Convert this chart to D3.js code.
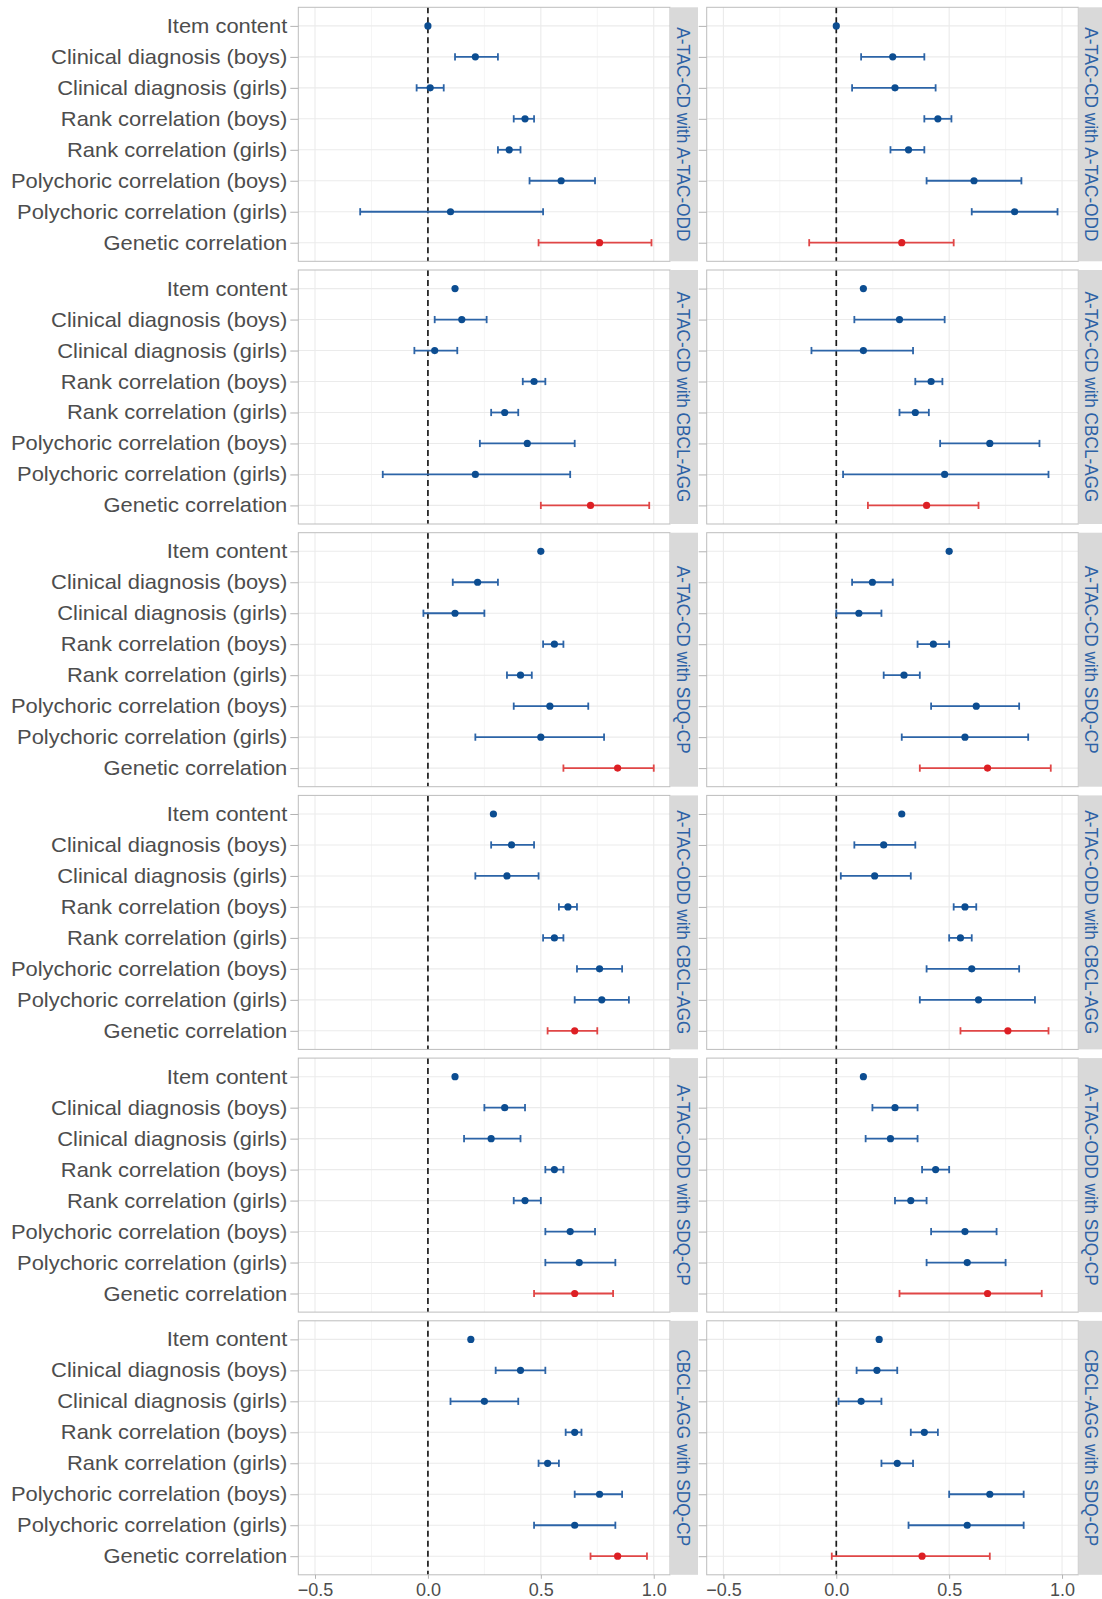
<!DOCTYPE html>
<html>
<head>
<meta charset="utf-8">
<script src="https://cdn.jsdelivr.net/npm/d3@7"></script>
<style>
  html, body { margin: 0; padding: 0; background: #ffffff; }
  svg { display: block; font-family: "Liberation Sans", Arial, Helvetica, sans-serif; }
</style>
</head>
<body>
<svg id="chart" width="1102" height="1599"></svg>
<script>
// Validity evidence rows, top to bottom
const categories = [
  "Item content",
  "Clinical diagnosis (boys)",
  "Clinical diagnosis (girls)",
  "Rank correlation (boys)",
  "Rank correlation (girls)",
  "Polychoric correlation (boys)",
  "Polychoric correlation (girls)",
  "Genetic correlation"
];

// Pairs of measures, one facet row each
const comparisons = [
  "A-TAC-CD with A-TAC-ODD",
  "A-TAC-CD with CBCL-AGG",
  "A-TAC-CD with SDQ-CP",
  "A-TAC-ODD with CBCL-AGG",
  "A-TAC-ODD with SDQ-CP",
  "CBCL-AGG with SDQ-CP"
];

const xTicks = [-0.5, 0, 0.5, 1.0];

// Left column: estimates and 95% interval bounds (null = no interval)
const estLeft = [
  [0.00, 0.21, 0.01, 0.43, 0.36, 0.59, 0.10, 0.76],
  [0.12, 0.15, 0.03, 0.47, 0.34, 0.44, 0.21, 0.72],
  [0.50, 0.22, 0.12, 0.56, 0.41, 0.54, 0.50, 0.84],
  [0.29, 0.37, 0.35, 0.62, 0.56, 0.76, 0.77, 0.65],
  [0.12, 0.34, 0.28, 0.56, 0.43, 0.63, 0.67, 0.65],
  [0.19, 0.41, 0.25, 0.65, 0.53, 0.76, 0.65, 0.84]
];
const lowLeft = [
  [null, 0.12, -0.05, 0.38, 0.31, 0.45, -0.30, 0.49],
  [null, 0.03, -0.06, 0.42, 0.28, 0.23, -0.20, 0.50],
  [null, 0.11, -0.02, 0.51, 0.35, 0.38, 0.21, 0.60],
  [null, 0.28, 0.21, 0.58, 0.51, 0.66, 0.65, 0.53],
  [null, 0.25, 0.16, 0.52, 0.38, 0.52, 0.52, 0.47],
  [null, 0.30, 0.10, 0.61, 0.49, 0.65, 0.47, 0.72]
];
const highLeft = [
  [null, 0.31, 0.07, 0.47, 0.41, 0.74, 0.51, 0.99],
  [null, 0.26, 0.13, 0.52, 0.40, 0.65, 0.63, 0.98],
  [null, 0.31, 0.25, 0.60, 0.46, 0.71, 0.78, 1.00],
  [null, 0.47, 0.49, 0.66, 0.60, 0.86, 0.89, 0.75],
  [null, 0.43, 0.41, 0.60, 0.50, 0.74, 0.83, 0.82],
  [null, 0.52, 0.40, 0.68, 0.58, 0.86, 0.83, 0.97]
];

// Right column
const estRight = [
  [0.00, 0.25, 0.26, 0.45, 0.32, 0.61, 0.79, 0.29],
  [0.12, 0.28, 0.12, 0.42, 0.35, 0.68, 0.48, 0.40],
  [0.50, 0.16, 0.10, 0.43, 0.30, 0.62, 0.57, 0.67],
  [0.29, 0.21, 0.17, 0.57, 0.55, 0.60, 0.63, 0.76],
  [0.12, 0.26, 0.24, 0.44, 0.33, 0.57, 0.58, 0.67],
  [0.19, 0.18, 0.11, 0.39, 0.27, 0.68, 0.58, 0.38]
];
const lowRight = [
  [null, 0.11, 0.07, 0.39, 0.24, 0.40, 0.60, -0.12],
  [null, 0.08, -0.11, 0.35, 0.28, 0.46, 0.03, 0.14],
  [null, 0.07, 0.00, 0.36, 0.21, 0.42, 0.29, 0.37],
  [null, 0.08, 0.02, 0.52, 0.50, 0.40, 0.37, 0.55],
  [null, 0.16, 0.13, 0.38, 0.26, 0.42, 0.40, 0.28],
  [null, 0.09, 0.01, 0.33, 0.20, 0.50, 0.32, -0.02]
];
const highRight = [
  [null, 0.39, 0.44, 0.51, 0.39, 0.82, 0.98, 0.52],
  [null, 0.48, 0.34, 0.47, 0.41, 0.90, 0.94, 0.63],
  [null, 0.25, 0.20, 0.50, 0.37, 0.81, 0.85, 0.95],
  [null, 0.35, 0.33, 0.62, 0.60, 0.81, 0.88, 0.94],
  [null, 0.36, 0.36, 0.50, 0.40, 0.71, 0.75, 0.91],
  [null, 0.27, 0.20, 0.45, 0.34, 0.83, 0.83, 0.68]
];

// ---- layout ----
const svg = d3.select("#chart");
const panelTop0 = 7.3, panelStep = 262.7, panelH = 254;
const stripW = 28;
const stretch = 1.08;   // text is set slightly wide
const columns = [
  { x0: 298.3, x1: 670, est: estLeft, low: lowLeft, high: highLeft, labels: true },
  { x0: 706.7, x1: 1078.3, est: estRight, low: lowRight, high: highRight, labels: false }
];
const xDomain = [-0.574, 1.072];
const minorTicks = [-0.25, 0.25, 0.75];

const blueBar = "#2C64A7", bluePt = "#0C4D91";
const redBar = "#E04646", redPt = "#DD1F24";
const gridCol = "#EBEBEB", borderCol = "#BDBDBD";
const textCol = "#4D4D4D", stripText = "#2D62A6";

columns.forEach((col, ci) => {
  const x = d3.scaleLinear().domain(xDomain).range([col.x0, col.x1]);

  comparisons.forEach((title, ri) => {
    const top = panelTop0 + ri * panelStep;
    const y = d3.scalePoint().domain(categories).range([top, top + panelH]).padding(0.6);
    const g = svg.append("g");

    // panel background
    g.append("rect").attr("x", col.x0).attr("y", top)
      .attr("width", col.x1 - col.x0).attr("height", panelH).attr("fill", "#fff");

    // grid
    g.selectAll(".vminor").data(minorTicks).join("line")
      .attr("x1", d => x(d)).attr("x2", d => x(d)).attr("y1", top).attr("y2", top + panelH)
      .attr("stroke", "#F2F2F2").attr("stroke-width", 0.8);
    g.selectAll(".vmajor").data(xTicks).join("line")
      .attr("x1", d => x(d)).attr("x2", d => x(d)).attr("y1", top).attr("y2", top + panelH)
      .attr("stroke", gridCol).attr("stroke-width", 1.1);
    g.selectAll(".hmajor").data(categories).join("line")
      .attr("x1", col.x0).attr("x2", col.x1).attr("y1", d => y(d)).attr("y2", d => y(d))
      .attr("stroke", gridCol).attr("stroke-width", 1.1);

    // reference line at zero
    g.append("line").attr("x1", x(0)).attr("x2", x(0)).attr("y1", top).attr("y2", top + panelH)
      .attr("stroke", "#1a1a1a").attr("stroke-width", 1.7).attr("stroke-dasharray", "6,4");

    // rows with intervals
    const rows = categories.map((c, i) => ({
      cat: c, est: col.est[ri][i], lo: col.low[ri][i], hi: col.high[ri][i],
      genetic: c === "Genetic correlation"
    }));
    const withCI = rows.filter(d => d.lo !== null && d.hi !== null);

    const eb = g.selectAll(".eb").data(withCI).join("g")
      .attr("stroke", d => d.genetic ? redBar : blueBar).attr("stroke-width", 1.8).attr("fill", "none");
    eb.append("line").attr("x1", d => x(d.lo)).attr("x2", d => x(d.hi))
      .attr("y1", d => y(d.cat)).attr("y2", d => y(d.cat));
    eb.append("line").attr("x1", d => x(d.lo)).attr("x2", d => x(d.lo))
      .attr("y1", d => y(d.cat) - 3.6).attr("y2", d => y(d.cat) + 3.6);
    eb.append("line").attr("x1", d => x(d.hi)).attr("x2", d => x(d.hi))
      .attr("y1", d => y(d.cat) - 3.6).attr("y2", d => y(d.cat) + 3.6);

    g.selectAll(".pt").data(rows).join("circle")
      .attr("cx", d => x(d.est)).attr("cy", d => y(d.cat)).attr("r", 3.6)
      .attr("fill", d => d.genetic ? redPt : bluePt);

    // panel border
    g.append("rect").attr("x", col.x0).attr("y", top)
      .attr("width", col.x1 - col.x0).attr("height", panelH)
      .attr("fill", "none").attr("stroke", borderCol).attr("stroke-width", 1);

    // facet strip
    g.append("rect").attr("x", col.x1).attr("y", top)
      .attr("width", stripW).attr("height", panelH).attr("fill", "#D9D9D9");
    g.append("text")
      .attr("transform", `translate(${col.x1 + stripW / 2 - 0.5},${top + panelH / 2}) scale(${stretch},1) rotate(90)`)
      .attr("text-anchor", "middle").attr("dy", "0.35em")
      .attr("font-size", 17.2).attr("fill", stripText)
      .text(title);

    // y axis
    const ya = g.append("g").attr("transform", `translate(${col.x0},0)`)
      .call(d3.axisLeft(y).tickSize(8).tickPadding(3));
    ya.select(".domain").remove();
    ya.selectAll(".tick line").attr("stroke", "#B3B3B3").attr("stroke-width", 1);
    ya.selectAll(".tick text").attr("font-size", 20.3).attr("fill", textCol)
      .attr("font-family", "'Liberation Sans', Arial, sans-serif")
      .attr("x", -11 / stretch)
      .attr("transform", `scale(${stretch},1)`)
      .style("display", col.labels ? null : "none");

    // x axis on bottom row only
    if (ri === comparisons.length - 1) {
      const xa = g.append("g").attr("transform", `translate(0,${top + panelH})`)
        .call(d3.axisBottom(x).tickValues(xTicks).tickFormat(d3.format(".1f")).tickSize(4).tickPadding(4));
      xa.select(".domain").remove();
      xa.selectAll(".tick line").attr("stroke", "#B3B3B3");
      xa.selectAll(".tick text").attr("font-size", 18).attr("fill", textCol)
        .attr("font-family", "'Liberation Sans', Arial, sans-serif");
    }
  });
});
</script>
</body>
</html>
